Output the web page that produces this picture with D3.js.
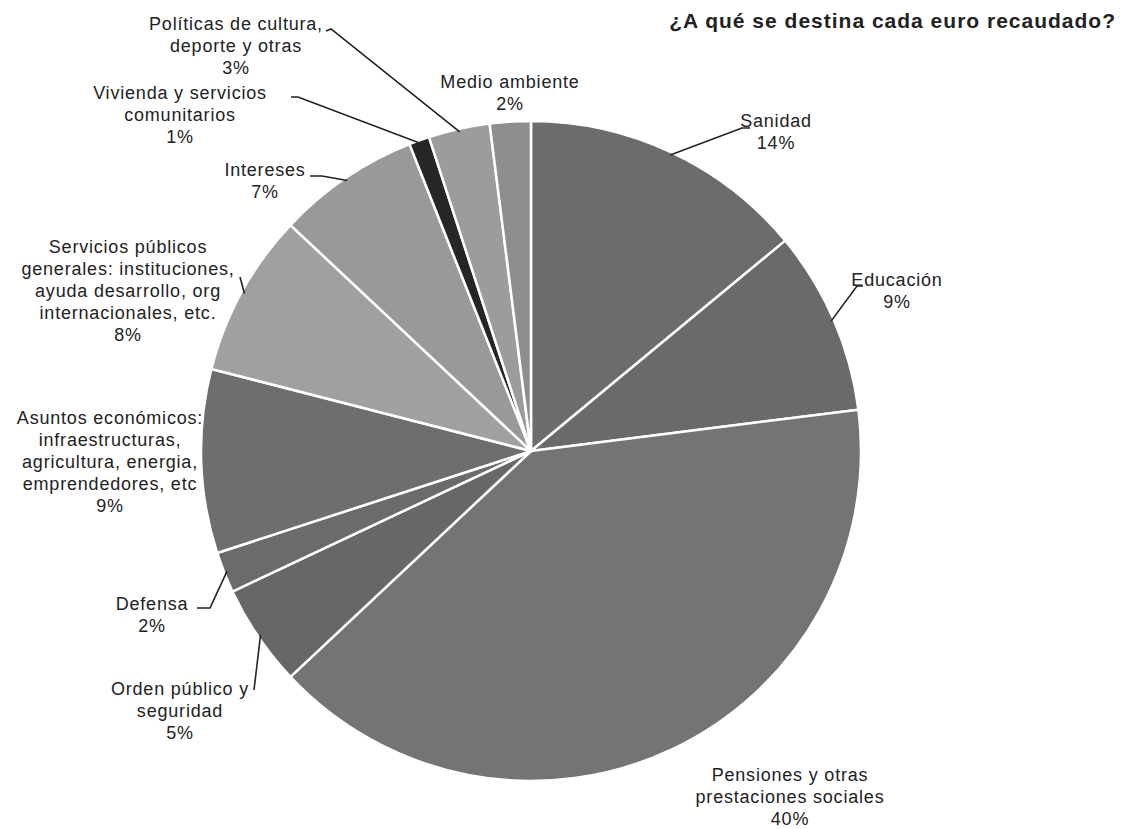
<!DOCTYPE html>
<html>
<head>
<meta charset="utf-8">
<script src="https://cdn.jsdelivr.net/npm/d3@7"></script>
<style>
  body { margin: 0; background: #fff; }
  svg text { font-family: "Liberation Sans", Arial, sans-serif; fill: #222; }
</style>
</head>
<body>
<div id="chart"></div>
<script>
// categories, clockwise from 12 o'clock
var categories = [
    "Sanidad", "Educación", "Pensiones y otras prestaciones sociales",
    "Orden público y seguridad", "Defensa",
    "Asuntos económicos: infraestructuras, agricultura, energia, emprendedores, etc",
    "Servicios públicos generales: instituciones, ayuda desarrollo, org internacionales, etc.",
    "Intereses", "Vivienda y servicios comunitarios",
    "Políticas de cultura, deporte y otras", "Medio ambiente"
];
var values = [14, 9, 40, 5, 2, 9, 8, 7, 1, 3, 2];
var labelLines = [
    ["Sanidad"], ["Educación"], ["Pensiones y otras", "prestaciones sociales"],
    ["Orden público y", "seguridad"], ["Defensa"],
    ["Asuntos económicos:", "infraestructuras,", "agricultura, energia,", "emprendedores, etc"],
    ["Servicios públicos", "generales: instituciones,", "ayuda desarrollo, org", "internacionales, etc."],
    ["Intereses"], ["Vivienda y  servicios", "comunitarios"],
    ["Políticas de cultura,", "deporte y otras"], ["Medio ambiente"]
];
var grays = ["#6c6c6c", "#6a6a6a", "#747474", "#676767", "#6b6b6b", "#6e6e6e",
             "#a0a0a0", "#999999", "#262626", "#9c9c9c", "#8e8e8e"];

// label layout: text centre x, first baseline y, leader end point (or null)
var labelPos = [
    {x: 776, y: 127, lead: [[742, 128], [750, 128]]},
    {x: 897, y: 286, lead: [[857, 286], [863, 286]]},
    {x: 790, y: 781, lead: null},
    {x: 180, y: 695, lead: [[254, 690]]},
    {x: 152, y: 610, lead: [[210, 608], [197, 608]]},
    {x: 110, y: 424, lead: null},
    {x: 128, y: 253, lead: [[240, 277]]},
    {x: 265, y: 176, lead: [[322, 176], [310, 176]]},
    {x: 180, y: 99,  lead: [[298, 97], [291, 97]]},
    {x: 236, y: 30,  lead: [[331, 29], [326, 31]]},
    {x: 510, y: 88,  lead: null}
];

var width = 1124, height = 829;
var cx = 531, cy = 451, radius = 330;

var svg = d3.select("#chart").append("svg")
    .attr("width", width)
    .attr("height", height);

var pie = d3.pie().sort(null).value(function(d) { return d; });
var arcs = pie(values);

var arc = d3.arc().innerRadius(0).outerRadius(radius);

var g = svg.append("g").attr("transform", "translate(" + cx + "," + cy + ")");

g.selectAll("path.slice")
    .data(arcs)
    .enter().append("path")
    .attr("class", "slice")
    .attr("d", arc)
    .attr("fill", function(d, i) { return grays[i]; })
    .attr("stroke", "#fff")
    .attr("stroke-width", 2.5)
    .attr("stroke-linejoin", "round");

// leader lines from slice edge to label
var line = d3.line();
arcs.forEach(function(d, i) {
    var p = labelPos[i];
    if (!p.lead) return;
    var a = (d.startAngle + d.endAngle) / 2;
    var edge = [cx + Math.sin(a) * (radius - 3), cy - Math.cos(a) * (radius - 3)];
    var pts = [edge].concat(p.lead);
    svg.append("path")
        .attr("d", line(pts))
        .attr("fill", "none")
        .attr("stroke", "#222")
        .attr("stroke-width", 1.6);
});

// labels
var lineH = 22;
labelPos.forEach(function(p, i) {
    var t = svg.append("text")
        .attr("text-anchor", "middle")
        .attr("font-size", 18)
        .attr("letter-spacing", 0.8);
    var lines = labelLines[i].concat([values[i] + "%"]);
    lines.forEach(function(s, k) {
        t.append("tspan")
            .attr("x", p.x)
            .attr("y", p.y + k * lineH)
            .text(s);
    });
});

svg.append("text")
    .attr("x", 1116)
    .attr("y", 28)
    .attr("text-anchor", "end")
    .attr("font-size", 21)
    .attr("font-weight", "bold")
    .attr("letter-spacing", 1)
    .text("¿A qué se destina cada euro recaudado?");
</script>
</body>
</html>
